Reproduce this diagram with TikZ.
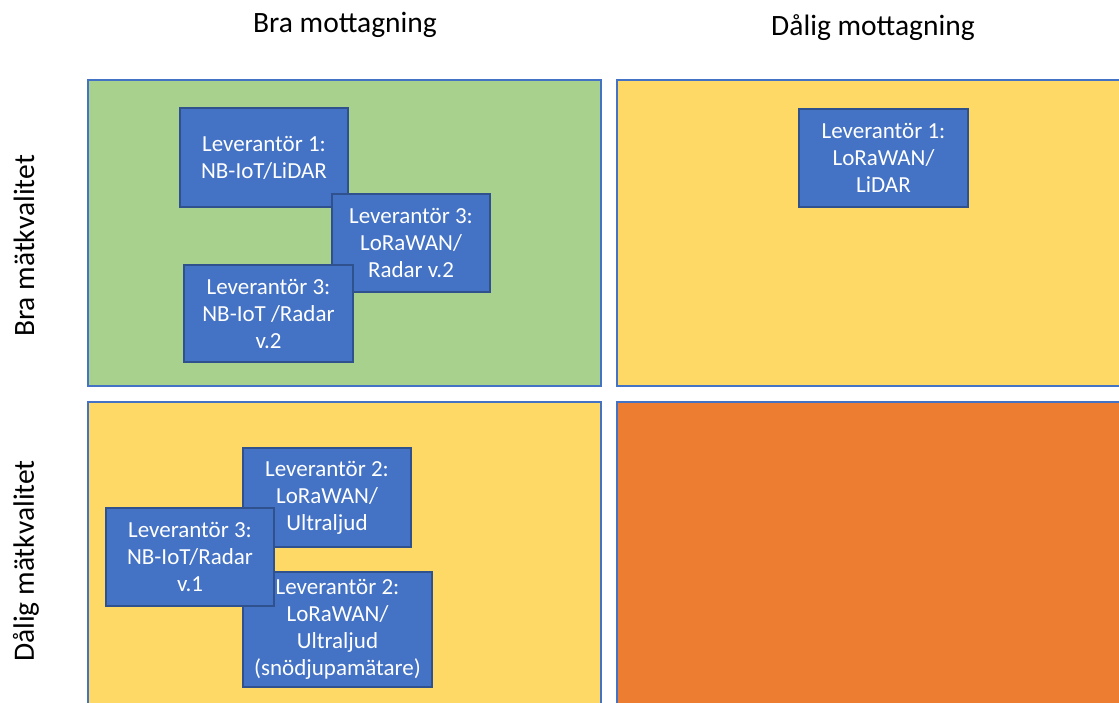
\documentclass[tikz,border=0pt]{standalone}
\usepackage{fontspec}
\setmainfont{Carlito}
\definecolor{qgreen}{HTML}{A9D18E}
\definecolor{qyellow}{HTML}{FFD966}
\definecolor{qorange}{HTML}{ED7D31}
\definecolor{bblue}{HTML}{4472C4}
\definecolor{bborder}{HTML}{2F528F}
\definecolor{qborder}{HTML}{4472C4}
\begin{document}
\begin{tikzpicture}[x=1pt,y=-1pt,
  quad/.style={draw=qborder, line width=1.2pt},
  vbox/.style={draw=bborder, fill=bblue, line width=1.2pt, text=white, align=center,
     font=\fontsize{23}{27}\selectfont, inner sep=0pt},
  head/.style={font=\fontsize{29.5}{34}\selectfont, text=black}]
\useasboundingbox (0,0) rectangle (1119,702);
\clip (0,0) rectangle (1119,702);
% quadrants
\path[quad, fill=qgreen] (88,80) rectangle (601,386);
\path[quad, fill=qyellow] (617,80) rectangle (1130,386);
\path[quad, fill=qyellow] (88,402) rectangle (601,715);
\path[quad, fill=qorange] (617,402) rectangle (1130,715);
% headers
\node[head] (h1) at (345,25) {Bra mottagning};
\node[head] (h2) at (873,28) {Dålig mottagning};
\node[head, rotate=90] (h3) at (24,246) {Bra mätkvalitet};
\node[head, rotate=90] (h4) at (26,561) {Dålig mätkvalitet};
% boxes
\node[vbox, minimum width=168pt, minimum height=99pt] (b1) at (264,157.5) {Leverantör 1:\\NB-IoT/LiDAR};
\node[vbox, minimum width=158pt, minimum height=98pt] (b2) at (411,243) {Leverantör 3:\\LoRaWAN/\\Radar v.2};
\node[vbox, minimum width=169pt, minimum height=97pt] (b3) at (268.5,313.5) {Leverantör 3:\\NB-IoT /Radar\\v.2};
\node[vbox, minimum width=169pt, minimum height=98pt] (b4) at (883.5,158) {Leverantör 1:\\LoRaWAN/\\LiDAR};
\node[vbox, minimum width=168pt, minimum height=99pt] (b5) at (327,497.5) {Leverantör 2:\\LoRaWAN/\\Ultraljud};
\node[vbox, minimum width=189pt, minimum height=115pt] (b7) at (337.5,629.5) {Leverantör 2:\\LoRaWAN/\\Ultraljud\\(snödjupamätare)};
\node[vbox, minimum width=168pt, minimum height=98pt] (b6) at (190,557) {Leverantör 3:\\NB-IoT/Radar\\v.1};
\end{tikzpicture}
\end{document}
